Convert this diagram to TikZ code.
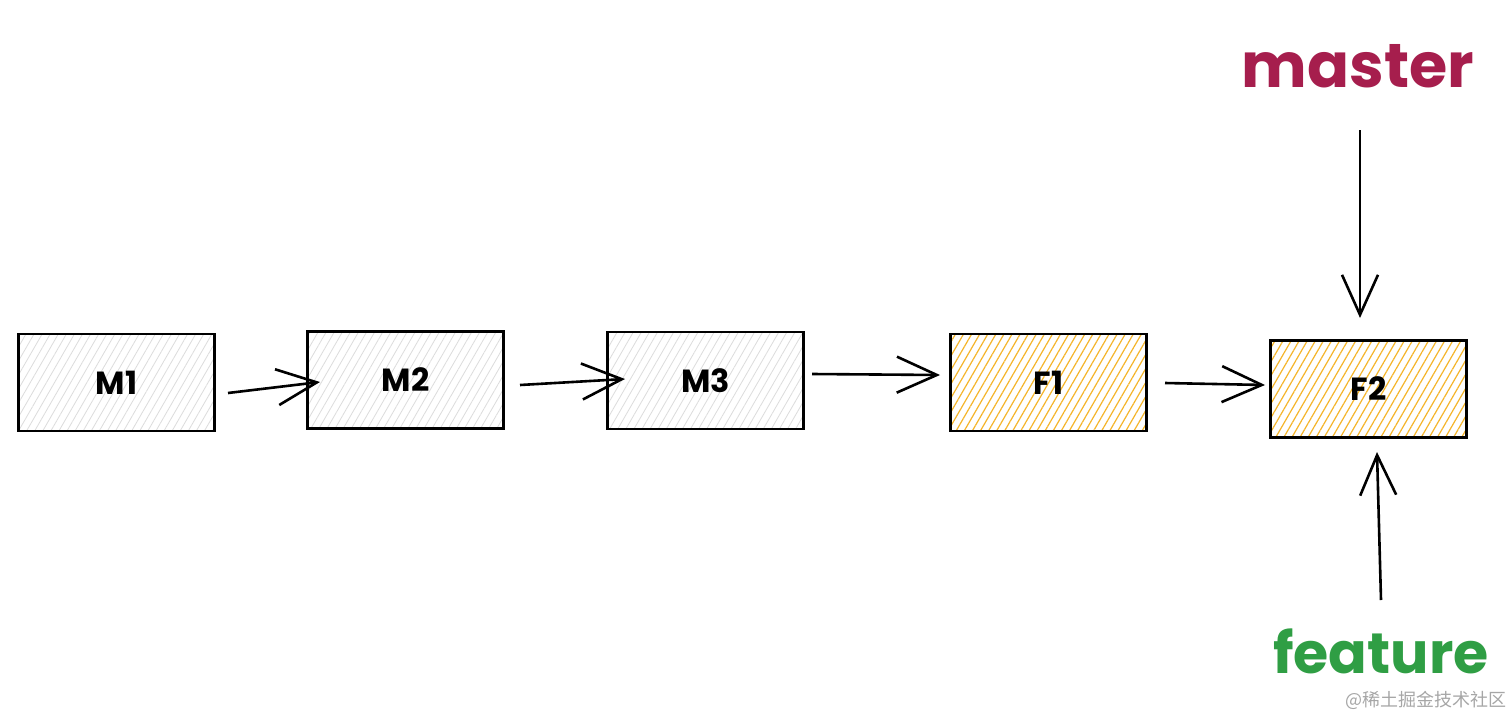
\documentclass[tikz,border=0pt]{standalone}
\usepackage{fontspec}
\setmainfont{Poppins}
\newfontfamily\cjkfont{Noto Sans CJK SC}
\usetikzlibrary{arrows.meta,patterns.meta}
\definecolor{mastercol}{HTML}{A61E4D}
\definecolor{featurecol}{HTML}{2F9E44}
\definecolor{hatchgray}{HTML}{DCDCDC}
\definecolor{hatchyellow}{HTML}{F5B52A}
\tikzset{
  commit/.style={draw=black, line width=2.4pt, minimum width=196pt, minimum height=97pt, inner sep=0pt, font=\fontsize{32}{32}\selectfont\bfseries},
  mcommit/.style={commit, preaction={fill=white}, preaction={pattern={Lines[angle=60,distance=7pt,line width=0.8pt]}, pattern color=hatchgray}},
  fcommit/.style={commit, preaction={fill=white}, preaction={pattern={Lines[angle=60,distance=7pt,line width=1.2pt]}, pattern color=hatchyellow}},
  link/.style={draw=black, line width=2.6pt, -{Straight Barb[length=40pt,width=36pt,line width=2.6pt]}},
  branch/.style={inner sep=0pt, font=\fontsize{62}{62}\selectfont\bfseries},
}
\begin{document}
\begin{tikzpicture}[x=1pt,y=-1pt]
\useasboundingbox (0,0) rectangle (1510,715);
\node[mcommit] (m1) at (116.5,382.5) {M1};
\node[mcommit] (m2) at (405.5,380) {M2};
\node[mcommit] (m3) at (705.5,380.5) {M3};
\node[fcommit] (f1) at (1048.5,382.5) {F1};
\node[fcommit] (f2) at (1368.5,389) {F2};
\coordinate (a1s) at (228,393);
\coordinate (a1e) at (320,382);
\coordinate (a2s) at (520,385);
\coordinate (a2e) at (625,379);
\coordinate (a3s) at (812,374);
\coordinate (a3e) at (940,375);
\coordinate (a4s) at (1165,383);
\coordinate (a4e) at (1265,385);
\draw[link] (a1s) -- (a1e);
\draw[link] (a2s) -- (a2e);
\draw[link] (a3s) -- (a3e);
\draw[link] (a4s) -- (a4e);
\node[branch, text=mastercol] (master) at (1358,66) {master};
\node[branch, text=featurecol, font=\fontsize{57}{57}\selectfont\bfseries] (feature) at (1381,651) {feature};
\coordinate (ms) at (1360,130);
\coordinate (me) at (1360,318);
\coordinate (fs) at (1381,600);
\coordinate (fe) at (1377,452);
\draw[link] (ms) -- (me);
\draw[link] (fs) -- (fe);
\node[inner sep=0pt, text=black!35, font=\cjkfont\fontsize{18}{18}\selectfont] (wm) at (1426,700) {@稀土掘金技术社区};
\end{tikzpicture}
\end{document}
